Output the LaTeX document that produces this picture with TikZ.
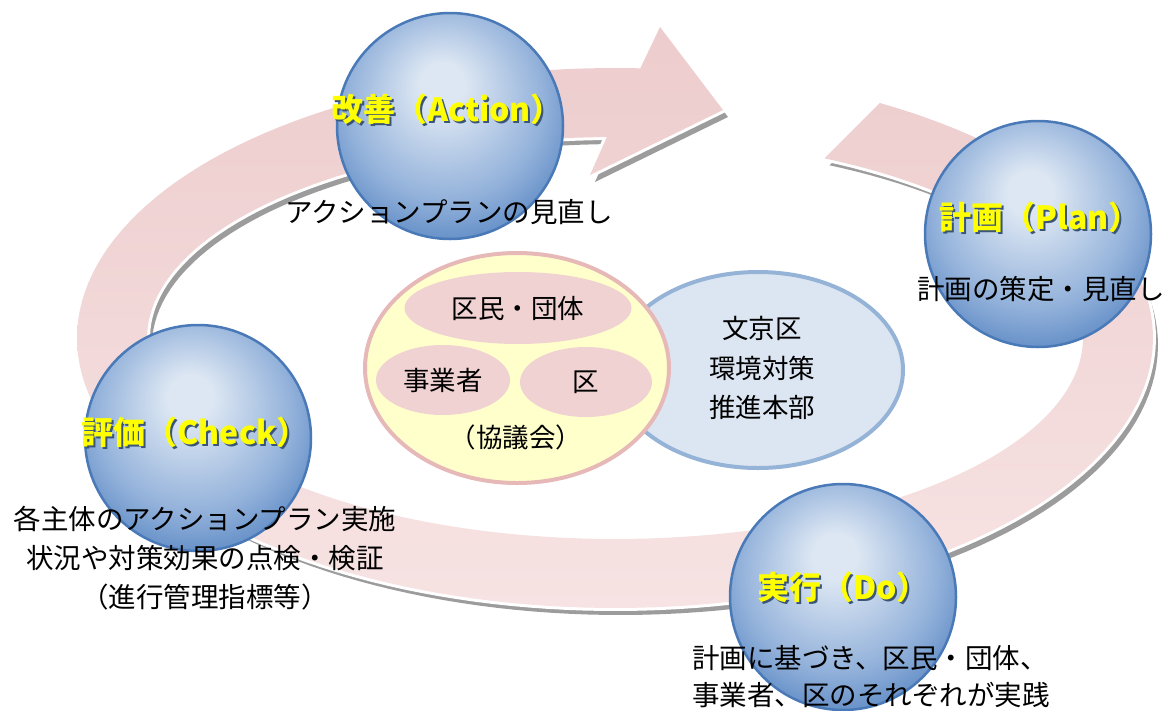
\documentclass[tikz,border=0pt]{standalone}
\usepackage{fontspec}
\setmainfont{Noto Sans CJK JP}
\usepackage{xcolor}
\usetikzlibrary{shapes.geometric}

\definecolor{bandtop}{HTML}{EDCCCD}
\definecolor{bandbot}{HTML}{F7E3E3}
\definecolor{bandshadow}{HTML}{9C9C9C}
\definecolor{orbhi}{HTML}{DDE7F3}
\definecolor{orbmid}{HTML}{92B1DA}
\definecolor{orblo}{HTML}{4C7DBD}
\definecolor{orbrim}{HTML}{4A79B8}
\definecolor{orbglow}{HTML}{3A5578}
\definecolor{kyellow}{HTML}{FFFFCC}
\definecolor{kpink}{HTML}{E6B9B8}
\definecolor{kinner}{HTML}{F0D2D2}
\definecolor{hblue}{HTML}{DCE6F2}
\definecolor{hblueline}{HTML}{95B3D7}
\definecolor{ttlyel}{HTML}{FFFF00}

\pgfdeclareradialshading{orb}{\pgfpoint{-2bp}{10bp}}{color(0bp)=(orbhi); color(5bp)=(orbhi); color(22bp)=(orbmid); color(34bp)=(orblo); color(50bp)=(orblo)}

\newcommand\glow[1]{\makebox[0pt][l]{\hspace{2pt}\raisebox{-2pt}{\textcolor{orbglow}{#1}}}#1}

\newcommand\bandpath{plot[domain=60.5:-272.7,samples=170] ({615+538*cos(\x)},{338-270*sin(\x)})
  -- (660,27) -- (723,110) -- (590,175)
  -- plot[domain=-269:63.4,samples=170] ({615+468*cos(\x)},{338-201*sin(\x)}) -- cycle}

\begin{document}
\begin{tikzpicture}[x=1pt,y=-1pt,
  orb/.style={circle,minimum size=226pt,inner sep=0pt,shading=orb,draw=orbrim,line width=2.5pt},
  ttl/.style={text=ttlyel,inner sep=0pt,font=\bfseries\fontsize{32}{32}\selectfont},
  body/.style={inner sep=0pt,align=center,font=\fontsize{27.5}{39}\selectfont},
  blob/.style={ellipse,fill=kinner,inner sep=0pt,font=\fontsize{26.5}{27}\selectfont}]

\useasboundingbox (0,0) rectangle (1169,710);

\fill[bandshadow,shift={(5,7)}] \bandpath;
\draw[white,line width=6pt,line join=miter] \bandpath;
\shade[top color=bandtop,bottom color=bandbot] \bandpath;

\node[ellipse,minimum width=290pt,minimum height=196pt,fill=hblue,draw=hblueline,line width=4pt] (honbu) at (758,370) {};
\node[body,font=\fontsize{26.5}{39.5}\selectfont] (honbuT) at (762,368) {文京区\\環境対策\\推進本部};

\node[ellipse,minimum width=304pt,minimum height=230pt,fill=kyellow,draw=kpink,line width=4pt] (kyogi) at (517,368) {};
\node[blob,minimum width=227pt,minimum height=72pt] (kumin) at (518,308) {区民・団体};
\node[blob,minimum width=134pt,minimum height=70pt] (jigyo) at (443,380) {事業者};
\node[blob,minimum width=132pt,minimum height=70pt] (ku) at (586,382) {区};
\node[body,font=\fontsize{26.5}{27}\selectfont] (kyogiT) at (516,437) {（協議会）};

\node[orb] (act) at (450,126) {};
\node[orb] (pln) at (1038,234) {};
\node[orb] (chk) at (198,438) {};
\node[orb] (do) at (843,597) {};

\node[ttl] (actT) at (447,110) {\glow{改善（Action）}};
\node[ttl] (plnT) at (1040,218) {\glow{計画（Plan）}};
\node[ttl] (chkT) at (195,433) {\glow{評価（Check）}};
\node[ttl] (doT) at (843,588) {\glow{実行（Do）}};

\node[body] (actB) at (449,212) {アクションプランの見直し};
\node[body] (plnB) at (1041,289) {計画の策定・見直し};
\node[body] (chkB) at (205,558) {各主体のアクションプラン実施\\状況や対策効果の点検・検証\\（進行管理指標等）};
\node[body,align=left,anchor=west,font=\fontsize{27.5}{37}\selectfont] (doB) at (692,677) {計画に基づき、区民・団体、\\事業者、区のそれぞれが実践};

\end{tikzpicture}
\end{document}
